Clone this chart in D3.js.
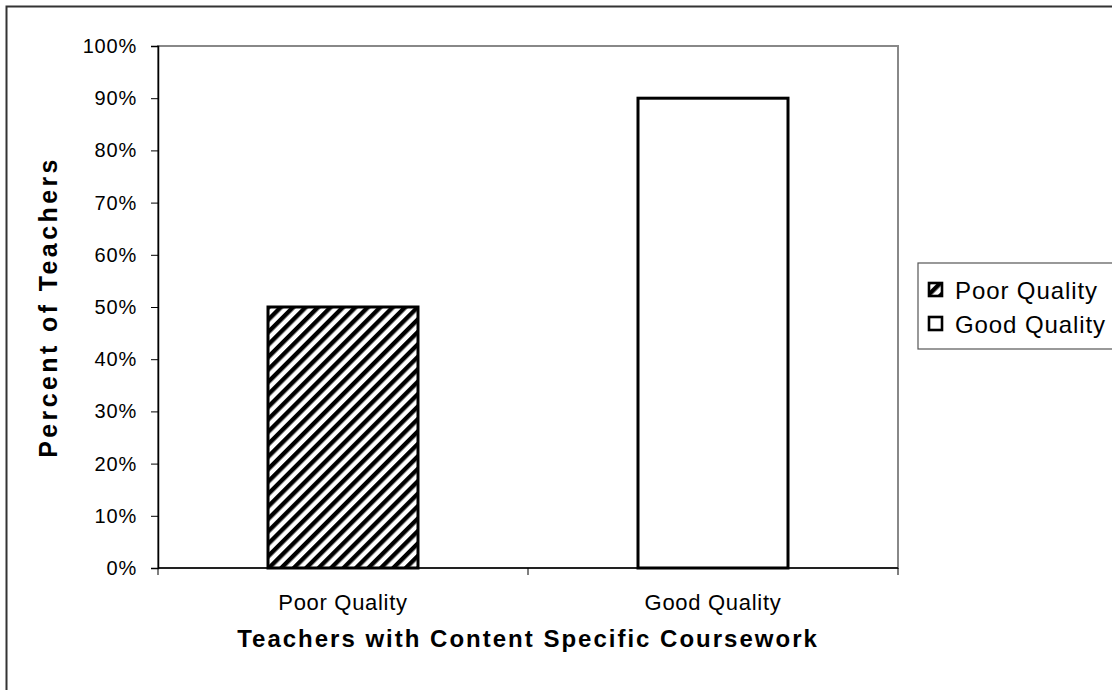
<!DOCTYPE html>
<html>
<head>
<meta charset="utf-8">
<script src="https://cdn.jsdelivr.net/npm/d3@7"></script>
<style>
  body { margin: 0; background: #fff; }
  text { font-family: "Liberation Sans", Arial, sans-serif; }
</style>
</head>
<body>
<div id="chart"></div>
<script>
// data
var categories = ["Poor Quality", "Good Quality"];
var percents = [50, 90];
var yTicks = [0, 10, 20, 30, 40, 50, 60, 70, 80, 90, 100];

var width = 1112, height = 690;
var plot = {left: 158, top: 46, right: 898, bottom: 568};

var svg = d3.select("#chart").append("svg")
    .attr("width", width)
    .attr("height", height);

// hatch pattern for the first bar
var hs = 8.8;
var defs = svg.append("defs");
var pat = defs.append("pattern")
    .attr("id", "hatch")
    .attr("patternUnits", "userSpaceOnUse")
    .attr("width", hs)
    .attr("height", hs)
    .attr("patternTransform", "rotate(45)");
pat.append("rect").attr("width", hs).attr("height", hs).attr("fill", "#fff");
pat.append("line")
    .attr("x1", 2.2).attr("x2", 2.2)
    .attr("y1", 0).attr("y2", hs)
    .attr("stroke", "#000")
    .attr("stroke-width", 4.4);

//outer chart frame
svg.append("rect")
    .attr("x", 6.5).attr("y", 6.5)
    .attr("width", width + 10).attr("height", height + 10)
    .attr("fill", "#fff")
    .attr("stroke", "#333")
    .attr("stroke-width", 2);

var x = d3.scaleBand()
    .domain(categories)
    .range([plot.left, plot.right]);

var y = d3.scaleLinear()
    .domain([0, 100])
    .range([plot.bottom, plot.top]);

// plot area border (top/right gray)
svg.append("rect")
    .attr("x", plot.left).attr("y", plot.top)
    .attr("width", plot.right - plot.left)
    .attr("height", plot.bottom - plot.top)
    .attr("fill", "none")
    .attr("stroke", "#888")
    .attr("stroke-width", 2);

// bars
var barW = 150;
svg.selectAll("rect.bar")
    .data(percents)
    .enter()
    .append("rect")
    .attr("class", "bar")
    .attr("x", (d, i) => x(categories[i]) + x.bandwidth() / 2 - barW / 2)
    .attr("y", d => y(d))
    .attr("width", barW)
    .attr("height", d => y(0) - y(d))
    .attr("fill", (d, i) => i == 0 ? "url(#hatch)" : "#fff")
    .attr("stroke", "#000")
    .attr("stroke-width", 3);

// y axis
var yAxis = d3.axisLeft(y)
    .tickValues(yTicks)
    .tickFormat(d => d + "%")
    .tickSize(7)
    .tickPadding(14);
var yg = svg.append("g")
    .attr("transform", "translate(" + plot.left + ",0)")
    .call(yAxis);
yg.select(".domain").attr("stroke", "#000").attr("stroke-width", 1.5);
yg.selectAll(".tick line").attr("stroke", "#000");
yg.selectAll("text")
    .attr("font-size", 20)
    .attr("letter-spacing", 0.8)
    .attr("fill", "#000")
    .style("font-family", "'Liberation Sans', Arial, sans-serif");

// x axis with ticks between categories
var xg = svg.append("g")
    .attr("transform", "translate(0," + plot.bottom + ")");
xg.append("line")
    .attr("x1", plot.left).attr("x2", plot.right)
    .attr("stroke", "#000").attr("stroke-width", 1.5);
var edges = [plot.left].concat(categories.map(c => x(c) + x.bandwidth()));
xg.selectAll("line.edge")
    .data(edges)
    .enter()
    .append("line")
    .attr("class", "edge")
    .attr("x1", d => d).attr("x2", d => d)
    .attr("y1", 0).attr("y2", 7)
    .attr("stroke", "#000");
xg.selectAll("text.cat")
    .data(categories)
    .enter()
    .append("text")
    .attr("class", "cat")
    .attr("x", d => x(d) + x.bandwidth() / 2)
    .attr("y", 42)
    .attr("text-anchor", "middle")
    .attr("font-size", 22)
    .attr("letter-spacing", 0.7)
    .text(d => d);

// axis titles
svg.append("text")
    .attr("x", plot.left + (plot.right - plot.left) / 2)
    .attr("y", 647)
    .attr("text-anchor", "middle")
    .attr("font-size", 24)
    .attr("font-weight", "bold")
    .attr("letter-spacing", 2)
    .text("Teachers with Content Specific Coursework");

svg.append("text")
    .attr("transform", "translate(57," + ((plot.top + plot.bottom) / 2) + ") rotate(-90)")
    .attr("text-anchor", "middle")
    .attr("font-size", 25)
    .attr("font-weight", "bold")
    .attr("letter-spacing", 3.4)
    .text("Percent of Teachers");

// legend
var lg = svg.append("g").attr("transform", "translate(918,263)");
lg.append("rect")
    .attr("width", 200).attr("height", 86)
    .attr("fill", "#fff")
    .attr("stroke", "#555")
    .attr("stroke-width", 1.2);
var items = lg.selectAll("g.item")
    .data(categories)
    .enter()
    .append("g")
    .attr("class", "item")
    .attr("transform", (d, i) => "translate(0," + (27 + i * 34) + ")");
items.append("rect")
    .attr("x", 11).attr("y", -7)
    .attr("width", 13).attr("height", 13)
    .attr("fill", (d, i) => i == 0 ? "url(#hatch)" : "#fff")
    .attr("stroke", "#000")
    .attr("stroke-width", 2.6);
items.append("text")
    .attr("x", 37)
    .attr("y", 8.5)
    .attr("font-size", 24)
    .attr("letter-spacing", 0.9)
    .text(d => d);
</script>
</body>
</html>
